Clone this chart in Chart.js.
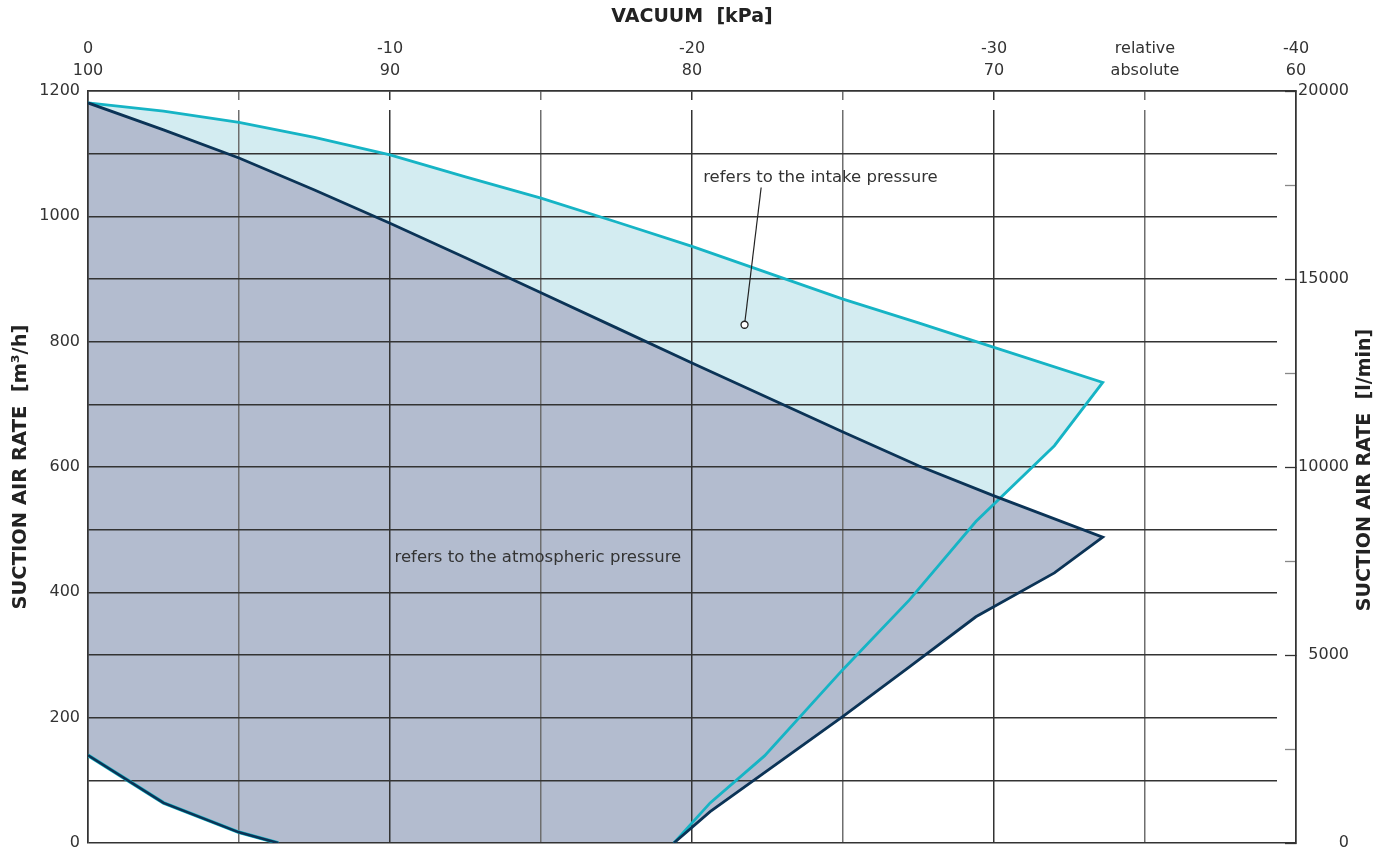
<!DOCTYPE html>
<html>
<head>
<meta charset="utf-8">
<title>Suction air rate</title>
<script src="https://cdn.jsdelivr.net/npm/chart.js@4.4.1/dist/chart.umd.min.js"></script>
<style>
  body { margin: 0; background: #fff; }
  #wrap { width: 1396px; height: 852px; }
</style>
</head>
<body>
<div id="wrap"><canvas id="airChart"></canvas></div>
<script>
"use strict";

// x = relative vacuum [kPa], y = suction air rate [m3/h]
const intakeTopX = [0, -2.5, -5, -7.5, -10, -12.5, -15, -17.5, -20, -25, -27.5, -30, -33.6];
const intakeTopY = [1181, 1168, 1150, 1126, 1098, 1063, 1029, 991, 952, 868, 830, 791, 735];
const intakeBackX = [-33.6, -32.0, -29.4, -27.2, -25, -22.4, -20.6, -19.4];
const intakeBackY = [735, 634, 513, 388, 277, 139, 64, 0];

const atmTopX = [0, -2.5, -5, -7.5, -10, -12.5, -15, -17.5, -20, -25, -27.5, -30, -33.6];
const atmTopY = [1181, 1138, 1093, 1042, 989, 934, 878, 822, 766, 656, 602, 554, 488];
const atmBackX = [-33.6, -32.0, -29.4, -27.2, -25, -20.6, -19.4];
const atmBackY = [488, 431, 361, 281, 202, 50, 0];

const lowX = [0, -2.5, -5, -6.3];
const lowY = [140, 64, 17, 0];

// tick labels
const topTicks = [0, -10, -20, -30, -35, -40];
const relLabels = ['0', '-10', '-20', '-30', 'relative', '-40'];
const absLabels = ['100', '90', '80', '70', 'absolute', '60'];
const leftLabels = [0, 200, 400, 600, 800, 1000, 1200];
const rightLabels = [0, 5000, 10000, 15000, 20000];

// notes
const noteTexts = ['refers to the intake pressure', 'refers to the atmospheric pressure'];
const noteX = [-20.37, -10.15];
const noteY = [1061, 455];
const leaderX = [-22.29, -21.74];
const leaderY = [1046, 827];

const navy = '#0b3356';
const cyan = '#16b4c5';
const navyFill = '#b3bccf';
const cyanFill = '#d3ecf1';
const textColor = '#333333';
const darkGrid = '#333333';
const lightGrid = '#6e6e6e';
const fontName = 'DejaVu Sans';

function pts(xs, ys) {
    return xs.map((x, i) => ({x: x, y: ys[i]}));
}

const intakeLine = pts(intakeTopX, intakeTopY).concat(pts(intakeBackX, intakeBackY).slice(1));
const atmLine = pts(atmTopX, atmTopY).concat(pts(atmBackX, atmBackY).slice(1));
const atmShape = atmLine.concat(pts(lowX, lowY).reverse());

Chart.defaults.font.family = fontName;
Chart.defaults.font.size = 16;
Chart.defaults.color = textColor;

function noPad(s) {
    s.paddingTop = 0;
    s.paddingBottom = 0;
}

// horizontal grid stops short of the right axis, vertical grid has a small break under the top axis
const gridGap = {
    id: 'gridGap',
    beforeDatasetsDraw(chart) {
        const a = chart.chartArea;
        const ctx = chart.ctx;
        const x = chart.scales.x;
        ctx.save();
        ctx.fillStyle = '#fff';
        ctx.fillRect(a.right - 19, a.top + 1, 18, a.bottom - a.top - 2);
        x.ticks.forEach((t) => {
            const px = x.getPixelForValue(t.value);
            if (px > a.left + 2 && px < a.right - 2) {
                ctx.fillRect(px - 2, a.top + 9, 4, 10);
            }
        });
        ctx.restore();
    }
};

const notesPlugin = {
    id: 'notes',
    afterDatasetsDraw(chart) {
        const ctx = chart.ctx;
        const x = chart.scales.x;
        const y = chart.scales.y;
        const y2 = chart.scales.y2;
        ctx.save();
        ctx.font = '16.5px "' + fontName + '"';
        ctx.fillStyle = textColor;
        ctx.textAlign = 'left';
        ctx.textBaseline = 'middle';
        for (let i = 0; i < noteTexts.length; i++) {
            ctx.fillText(noteTexts[i], x.getPixelForValue(noteX[i]), y.getPixelForValue(noteY[i]));
        }
        // right axis title reads bottom to top like the left one
        ctx.translate(y2.left + 69, (chart.chartArea.top + chart.chartArea.bottom) / 2 + 3);
        ctx.rotate(-Math.PI / 2);
        ctx.font = 'bold 19px "' + fontName + '"';
        ctx.fillStyle = '#222';
        ctx.textAlign = 'center';
        ctx.fillText('SUCTION AIR RATE  [l/min]', 0, 0);
        ctx.restore();
    }
};

const ctx = document.getElementById('airChart').getContext('2d');

new Chart(ctx, {
    type: 'scatter',
    data: {
        datasets: [
            {
                data: intakeLine,
                showLine: true,
                fill: 'shape',
                backgroundColor: cyanFill,
                borderWidth: 0,
                pointRadius: 0,
                order: 6
            },
            {
                data: atmShape,
                showLine: true,
                fill: 'shape',
                backgroundColor: navyFill,
                borderWidth: 0,
                pointRadius: 0,
                order: 5
            },
            {
                data: intakeLine,
                showLine: true,
                borderColor: cyan,
                borderWidth: 2.8,
                pointRadius: 0,
                order: 4
            },
            {
                data: pts(lowX, lowY),
                showLine: true,
                borderColor: cyan,
                borderWidth: 3.6,
                pointRadius: 0,
                order: 4
            },
            {
                data: atmLine,
                showLine: true,
                borderColor: navy,
                borderWidth: 2.8,
                pointRadius: 0,
                order: 3
            },
            {
                data: pts(lowX, lowY),
                showLine: true,
                borderColor: navy,
                borderWidth: 2.6,
                pointRadius: 0,
                order: 3
            },
            {
                data: pts(leaderX, leaderY),
                showLine: true,
                borderColor: '#222',
                borderWidth: 1.2,
                pointRadius: 0,
                order: 2
            },
            {
                data: pts(leaderX, leaderY).slice(1),
                pointRadius: 3.5,
                pointBackgroundColor: '#fff',
                pointBorderColor: '#222',
                pointBorderWidth: 1.3,
                order: 1
            }
        ]
    },
    options: {
        responsive: true,
        maintainAspectRatio: false,
        animation: false,
        layout: {padding: {top: 0, left: 0, right: 47, bottom: 9}},
        plugins: {
            legend: {display: false},
            tooltip: {enabled: false},
            filler: {drawTime: 'beforeDraw'}
        },
        scales: {
            x: {
                type: 'linear',
                position: 'top',
                min: -40,
                max: 0,
                reverse: true,
                afterFit: (s) => { s.height = 91; },
                ticks: {
                    stepSize: 5,
                    autoSkip: false,
                    maxRotation: 0,
                    padding: 9,
                    font: {size: 16, lineHeight: 1.4},
                    callback: (v) => {
                        const i = topTicks.indexOf(v);
                        return i < 0 ? '' : [relLabels[i], absLabels[i]];
                    }
                },
                grid: {
                    drawTicks: false,
                    lineWidth: 1.5,
                    color: (c) => (c.tick && c.tick.value % 10 !== 0) ? lightGrid : darkGrid
                },
                border: {color: '#333', width: 1.5},
                title: {
                    display: true,
                    text: 'VACUUM  [kPa]',
                    color: '#222',
                    font: {size: 19, weight: 'bold'},
                    padding: {top: 6, bottom: 0}
                }
            },
            y: {
                position: 'left',
                min: 0,
                max: 1200,
                afterFit: (s) => { s.width = 88; noPad(s); },
                ticks: {
                    stepSize: 100,
                    autoSkip: false,
                    padding: 8,
                    callback: (v) => leftLabels.includes(v) ? String(v) : ''
                },
                grid: {drawTicks: false, lineWidth: 1.5, color: darkGrid},
                border: {color: '#333', width: 1.5},
                title: {
                    display: true,
                    text: 'SUCTION AIR RATE  [m³/h]',
                    color: '#222',
                    font: {size: 19.5, weight: 'bold'},
                    padding: {top: 9, bottom: 0}
                }
            },
            y2: {
                position: 'right',
                min: 0,
                max: 20000,
                afterFit: (s) => { s.width = 53; noPad(s); },
                ticks: {
                    stepSize: 2500,
                    autoSkip: false,
                    padding: 17,
                    crossAlign: 'far',
                    callback: (v) => rightLabels.includes(v) ? String(v) : ''
                },
                grid: {
                    z: 1,
                    drawOnChartArea: false,
                    drawTicks: true,
                    tickLength: -11,
                    tickWidth: 1.3,
                    tickColor: (c) => (c.tick && c.tick.value % 5000 !== 0) ? '#888' : '#333'
                },
                border: {z: 1, color: '#333', width: 1.5}
            }
        }
    },
    plugins: [gridGap, notesPlugin]
});
</script>
</body>
</html>
